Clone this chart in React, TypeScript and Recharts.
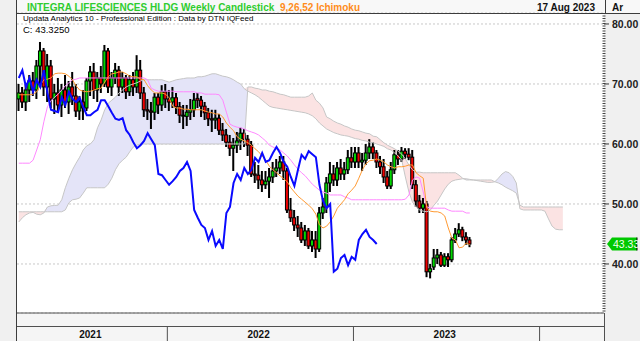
import React from 'react';
import {
  ComposedChart,
  Bar,
  Line,
  Area,
  XAxis,
  YAxis,
  CartesianGrid,
  ReferenceLine,
} from 'recharts';

// weekly candles, one per week (index 0 = early Mar 2021, 126 = 17 Aug 2023)
const opens = [
  67.5, 68.5, 67, 69, 70.5, 69, 73, 75.5, 69.5, 73,
  67.5, 68.5, 66.5, 69, 67, 69.5, 68, 65.5, 67, 66,
  70.5, 72, 69, 71, 70, 75.5, 69.5, 71, 72.3, 69.5,
  71, 68.7, 70.7, 69.5, 72.3, 68.5, 65.7, 65.5, 65.3, 67.8,
  66.5, 68.7, 67.5, 67, 67.7, 66.2, 64.8, 64.6, 65.3, 65.7,
  67.6, 67.3, 66.3, 65.2, 64.2, 64, 64.3, 62.3, 61.5, 60.3,
  59.3, 59.8, 60.5, 61.8, 60.8, 59.8, 55, 54.8, 54, 53.2,
  53.8, 54.5, 55.5, 56, 57, 55.5, 49, 47.7, 46.5, 46,
  44, 45.5, 43, 44, 42.5, 48.5, 49.5, 53.5, 55, 54,
  56, 55, 55.7, 57.7, 57, 58.5, 57, 57.3, 58.5, 59.5,
  58.5, 57, 56.2, 54.5, 53, 55.7, 58.2, 57.5, 58.8, 58.3,
  57.8, 53.2, 50.5, 49.3, 50, 38.7, 39.5, 41, 41.5, 39.8,
  41.2, 40.7, 44, 45, 45.7, 44.5, 44,
];
const highs = [
  70, 69.5, 70, 71.5, 72, 74, 77, 76, 75, 74,
  70, 71, 70, 71.5, 70.5, 72, 70, 68, 69, 71,
  73, 73.5, 72, 73, 76.5, 76, 72, 73.5, 73, 72,
  71.5, 71.5, 72, 74.8, 74, 69.5, 67.5, 67, 68.5, 68.5,
  69.8, 70, 69, 69.5, 68.5, 67, 66.5, 66.5, 67.5, 68.5,
  68.5, 68, 67, 66, 65.7, 65.7, 65, 63.5, 62.5, 61.5,
  61, 62, 62.7, 62.5, 61.5, 60.5, 57, 56.5, 55.5, 55.5,
  56, 57, 57.5, 58, 58, 56, 51, 49, 48, 47,
  46.5, 46, 45.5, 45.5, 49.5, 51, 54.5, 57, 56.5, 57,
  57.5, 57, 59, 59.5, 59.5, 59.5, 58.5, 60, 60.8, 60.3,
  59, 58, 57.5, 55.5, 57, 59, 59, 59.5, 59.3, 59.3,
  59, 54, 51.5, 51, 50.5, 40, 42.5, 42.5, 42, 41.8,
  41.8, 44.5, 46, 46.8, 46.2, 45.3, 44.5,
];
const lows = [
  65.5, 66, 65.5, 67, 68, 67.5, 70, 68, 67, 66,
  65, 65.5, 64.5, 66, 65, 66.5, 64.5, 64, 64, 65.5,
  68, 67.5, 67, 68.5, 69.5, 68.5, 68, 70, 68, 68.5,
  67.5, 68, 68, 68.5, 67.5, 64.5, 64, 62.5, 64, 65,
  65.5, 66, 65.5, 66, 65, 63.5, 62.5, 63, 64, 64.5,
  66, 64.5, 64, 63, 62, 62.5, 61.5, 60.5, 59.5, 58,
  55.5, 58.5, 59, 59.5, 58, 54.5, 53.5, 52.5, 52, 52.5,
  51, 53.5, 54.5, 55, 54, 48.5, 47, 45.5, 44.5, 43.5,
  43, 42.5, 42, 41, 42, 47.5, 48.5, 52, 53, 53,
  54, 54, 55, 56, 56, 56, 55.5, 56.5, 57.5, 57.5,
  56, 55, 53.5, 52.5, 52.5, 55, 56.5, 57, 57.5, 57.3,
  52.5, 49.5, 48.5, 48.5, 37.8, 37.6, 39, 40, 39.5, 39.5,
  39.5, 40.3, 43.5, 44.5, 43.8, 43.2, 42.8,
];
const closes = [
  68.5, 67, 69, 70.5, 69, 73, 75.5, 69.5, 73, 67.5,
  68.5, 66.5, 69, 67, 69.5, 68, 65.5, 67, 66, 70.5,
  72, 69, 71, 70, 75.5, 69.5, 71, 72.3, 69.5, 71,
  68.7, 70.7, 69.5, 72.3, 68.5, 65.7, 65.5, 65.3, 67.8, 66.5,
  68.7, 67.5, 67, 67.7, 66.2, 64.8, 64.8, 65.3, 65.7, 67.3,
  67.3, 66.3, 65.2, 64.2, 64, 64.3, 62.3, 61.5, 60.3, 59.3,
  59.8, 60.5, 61.8, 60.8, 59.8, 55, 54.8, 54, 53.2, 53.8,
  54.5, 55.5, 56, 57, 55.5, 49, 47.7, 46.5, 46, 44,
  45.5, 43, 44, 42.5, 48.5, 49.5, 53.5, 55, 54, 56,
  55, 55.7, 57.7, 57, 58.5, 57, 57.3, 58.5, 59.5, 58.5,
  57, 56.2, 54.5, 53, 55.7, 58.2, 57.5, 58.8, 58.3, 57.8,
  53.2, 50.5, 49.3, 50, 38.7, 39.2, 41, 41.5, 39.8, 41.2,
  40.7, 44, 45, 45.7, 44.5, 44, 43.33,
];

// ichimoku lines as they appear on the chart
const tenkan = [
  68.2, 68.2, 68.2, 68.2, 68.3, 68.7, 69.8, 70.7, 70.8, 71,
  71.7, 71.8, 71.8, 71.7, 71.3, 70.7, 69.7, 69, 68.8, 68.7,
  68.8, 69, 69.2, 69.3, 70.3, 71.2, 71.7, 71.8, 72, 72,
  71.7, 71.3, 71.2, 71.2, 70.8, 70.7, 69.7, 69, 68.5, 68.5,
  68.5, 68.3, 67.7, 66.3, 66, 66, 65.8, 65.8, 65.7, 65.7,
  65.7, 65.7, 65.5, 65.3, 65.2, 65, 65, 64.5, 63.5, 62.8,
  62.2, 61.2, 60.8, 60.5, 60.2, 59.8, 59.2, 58.7, 58, 57.3,
  56.3, 55.7, 55.2, 54.7, 54.2, 53.7, 52.7, 52, 51.3, 50.8,
  50.3, 49.8, 49.2, 48.3, 46.5, 46, 46.3, 47, 48, 49.3,
  50, 50.7, 51.7, 52.3, 53, 54.3, 55.7, 56.7, 57.2, 57.3,
  57.5, 57.3, 57, 56.5, 56.2, 56, 56.2, 56.2, 56.3, 56.5,
  56.5, 55.2, 54.7, 54.3, 49.3, 48.8, 48.7, 48.7, 48.5, 48,
  46, 44.3, 44, 42.7, 42.8, 43.5, 43.2,
];
const kijun = [
  56.8, 56.8, 56.8, 56.8, 57.3, 59, 60.7, 63.7, 66.2, 67.2,
  67.8, 68.3, 69, 69.7, 70.2, 70.7, 70.8, 71, 71, 71,
  71, 71, 71, 71, 71, 71, 71, 71, 71, 71,
  71, 71, 71, 71, 71, 71, 70.7, 69.3, 69, 68.8,
  68.8, 68.8, 68.8, 68.8, 68.7, 68.7, 68.7, 68.7, 68.7, 68.7,
  68.5, 68.5, 68.3, 68.3, 68.3, 68.3, 68.2, 67.3, 65.3, 63.3,
  63, 62.8, 62.7, 62.5, 62.2, 62, 61.8, 61.5, 61, 60.5,
  59.8, 59.5, 59.2, 59, 58.5, 58, 57.3, 56.5, 55.8, 55.2,
  54.7, 54, 53.3, 52.8, 52.3, 52, 51.8, 51.5, 51.5, 51.5,
  51.5, 51.2, 51, 50.7, 50.7, 50.7, 50.7, 50.7, 50.7, 50.7,
  50.7, 50.7, 50.7, 50.7, 50.7, 50.7, 50.7, 50.7, 50.8, 51.5,
  54, 54.5, 54.3, 52, 49.5, 49.3, 49.3, 49.3, 49.3, 49.3,
  49, 48.8, 48.8, 48.8, 48.8, 48.5, 48.5,
];
// cloud edges, running 26 weeks past the last candle
const spanA = [
  47, 47.7, 48.2, 48.5, 48.6, 48.3, 48.2, 48.5, 49.5, 49.7,
  49.75, 49.8, 50.7, 52.7, 54.3, 55.7, 56.8, 57.8, 59, 59.7,
  60, 60.7, 62.7, 64, 65.7, 66.8, 67.3, 67.8, 68.5, 69,
  69.5, 69.8, 70, 70.2, 70.5, 70.7, 70.7, 70.7, 70.7, 70.7,
  70.7, 70.5, 70.3, 70.5, 70.7, 70.8, 70.9, 71, 71, 71,
  71.2, 71.2, 71.3, 71.5, 71.7, 71.7, 71.5, 71.3, 71.2, 71,
  70.7, 70.3, 70, 69.2, 68.8, 68.5, 68.2, 67.8, 67.3, 66.8,
  66.3, 66.1, 66, 65.9, 65.8, 65.7, 65.6, 65.5, 65.4, 65.3,
  65.2, 65, 64.7, 64.2, 63.5, 63, 62.5, 62.2, 61.9, 61.7,
  61.5, 61.4, 61.3, 61.1, 60.9, 60.8, 60.6, 60.5, 60.3, 60.2,
  60, 59.8, 59.6, 59.2, 59, 58.5, 58, 57.3, 54.5, 52,
  50.3, 49.5, 49, 48.8, 48.7, 49, 49.8, 50.5, 51.5, 52.5,
  53.3, 53.8, 54, 54.1, 54.2, 54.2, 54.1, 54, 53.9, 53.8,
  53.7, 53.6, 53.6, 53.7, 54.3, 55, 55.4, 55.2, 54.6, 53.5,
  49.2, 49, 49, 49, 49, 49, 49, 48.8, 47.5, 46.3,
  45.8, 45.7, 45.7,
];
const spanB = [
  48.7, 48.7, 48.7, 48.7, 48.7, 48.7, 48.7, 48.7, 48.7, 48.7,
  48.7, 48.7, 48.7, 49, 50.2, 50.7, 50.8, 51, 51.8, 52.7,
  52.7, 52.7, 52.7, 52.7, 52.7, 53.3, 54.3, 55.7, 56.7, 57.3,
  57.8, 58.7, 59.5, 59.8, 60, 60, 60, 60, 60, 60,
  60, 60, 60, 60, 60, 60, 60, 60, 60, 60,
  60, 60, 60, 60, 60, 60, 60, 60, 60, 60,
  60, 60, 60, 60, 69.5, 69.5, 69.3, 69.2, 69, 69,
  68.8, 68.7, 68.5, 68.3, 68.2, 68, 67.8, 67.8, 67.8, 67.8,
  67.8, 68, 68.5, 67.3, 66.8, 66, 64.5, 64.2, 63.8, 63.5,
  63.3, 63, 62.8, 62.5, 62.3, 62.2, 62, 61.8, 61.7, 61.3,
  61.2, 60.7, 60.2, 59.8, 59.5, 59.2, 58.8, 58.3, 57.5, 56.5,
  55.7, 55.3, 55.3, 55.2, 55.2, 55.2, 55.2, 55.2, 55.2, 55.2,
  55.2, 55.2, 55.2, 54.8, 54.3, 54, 54, 54, 54, 54,
  54, 54, 54, 53.7, 53.5, 53.2, 52.8, 52.5, 52.2, 51.8,
  49.8, 49.5, 49.5, 49.5, 49.5, 49.5, 49.5, 49.5, 49.5, 49.5,
  49.5, 49.5, 49.5,
];

const priceTicks = [40, 50, 60, 70, 80];
const yearLabelWeeks = [20, 67, 119];
const yearLabels = ['2021', '2022', '2023'];
const yearBreakWeeks = [41, 93, 145];

const TOTAL_WEEKS = 164;
const LAG = 26;
const FONT = '"Liberation Sans", Arial, Helvetica, sans-serif';
const lastClose = closes[closes.length - 1];

const rows = Array.from({ length: TOTAL_WEEKS }, (_, i) => {
  const hasBar = i < closes.length;
  const a = spanA[i];
  const b = spanB[i];
  const hasCloud = a != null && b != null;
  return {
    i,
    hl: hasBar ? [lows[i], highs[i]] : null,
    o: opens[i],
    h: highs[i],
    l: lows[i],
    c: closes[i],
    tenkan: hasBar ? tenkan[i] : null,
    kijun: hasBar ? kijun[i] : null,
    chikou: i + LAG < closes.length ? closes[i + LAG] : null,
    spanA: hasCloud ? a : null,
    spanB: hasCloud ? b : null,
    bull: hasCloud ? [b, Math.max(a, b)] : null,
    bear: hasCloud ? [a, Math.max(a, b)] : null,
  };
});

function Candle(props: any) {
  const { x, y, width, height, payload } = props;
  if (!payload || payload.hl == null || height == null || isNaN(y)) return <g />;
  const { o, h, l, c } = payload;
  const top = height >= 0 ? y : y + height;
  const span = Math.abs(height);
  const toY = (v: number) => top + ((h - v) / (h - l)) * span;
  const cx = x + width / 2;
  const bodyTop = toY(Math.max(o, c));
  const bodyH = Math.max(toY(Math.min(o, c)) - bodyTop, 1);
  return (
    <g>
      <rect x={cx - 1} y={top} width={2} height={span} fill="#000" />
      <rect
        x={cx - 1.5}
        y={bodyTop}
        width={3}
        height={bodyH}
        fill={c >= o ? '#00d800' : '#ee0000'}
        stroke="#000"
        strokeWidth={1}
      />
    </g>
  );
}

function PriceLabel(props: any) {
  const { x, y, payload } = props;
  return (
    <text x={x} y={y + 4} fontFamily={FONT} fontWeight="bold" fontSize={10.5} fill="#222">
      {Number(payload.value).toFixed(2)}
    </text>
  );
}

function YearTick(props: any) {
  const { x, y, payload } = props;
  const k = yearLabelWeeks.indexOf(payload.value);
  if (k >= 0) {
    return (
      <text x={x} y={y + 25} textAnchor="middle" fontFamily={FONT} fontWeight="bold" fontSize={10} fill="#111">
        {yearLabels[k]}
      </text>
    );
  }
  return <line x1={x + 1.8} x2={x + 1.8} y1={y + 14} y2={y + 28} stroke="#505050" />;
}

function PriceTag(props: any) {
  const vb = props.viewBox || {};
  const yy = vb.y;
  const x0 = vb.x + vb.width + 3;
  const x1 = 637;
  return (
    <g>
      <polygon
        points={`${x0},${yy} ${x0 + 5},${yy - 6.5} ${x1},${yy - 6.5} ${x1},${yy + 6.5} ${x0 + 5},${yy + 6.5}`}
        fill="#00c800"
      />
      <line x1={x1} x2={x1} y1={yy - 6.5} y2={yy + 6.5} stroke="#000" />
      <text x={x0 + 6} y={yy + 4} fontFamily={FONT} fontSize={10.5} fill="#f0fff0">
        {lastClose.toFixed(2)}
      </text>
    </g>
  );
}

export default function App() {
  return (
    <div style={{ position: 'absolute', left: 0, top: 0, width: 640, height: 341, background: '#f0f0f0', overflow: 'hidden' }}>
      <div style={{ position: 'absolute', left: 17, top: 0, width: 623, height: 13, background: '#f8f8f8' }} />
      <div style={{ position: 'absolute', left: 17, top: 13, width: 587, height: 300, background: '#fff' }} />
      <div style={{ position: 'absolute', left: 17, top: 313, width: 587, height: 28, background: '#f5f5f5' }} />
      <div style={{ position: 'absolute', left: 0, top: 0 }}>
        <ComposedChart
          width={640}
          height={341}
          data={rows}
          margin={{ top: 13, right: 0, bottom: 0, left: 17 }}
        >
          <CartesianGrid vertical={false} stroke="#c8c8c8" strokeDasharray="2 2" />
          <XAxis
            dataKey="i"
            type="category"
            ticks={[...yearLabelWeeks, ...yearBreakWeeks]}
            interval={0}
            height={28}
            tickSize={0}
            tickMargin={0}
            tickLine={false}
            axisLine={{ stroke: '#505050' }}
            tick={<YearTick />}
          />
          <YAxis
            orientation="right"
            domain={[31.83, 81.83]}
            allowDataOverflow
            ticks={priceTicks}
            interval={0}
            width={36}
            tickSize={5}
            tickMargin={3}
            tickLine={{ stroke: '#333' }}
            axisLine={{ stroke: '#444', strokeWidth: 3, strokeDasharray: '1 1.5' }}
            tick={<PriceLabel />}
          />
          <Area dataKey="bull" type="linear" stroke="none" fill="#e4e4f8" fillOpacity={1} isAnimationActive={false} />
          <Area dataKey="bear" type="linear" stroke="none" fill="#fbe3e3" fillOpacity={1} isAnimationActive={false} />
          <Line dataKey="spanA" type="linear" stroke="#c6c6c6" strokeWidth={1} dot={false} isAnimationActive={false} />
          <Line dataKey="spanB" type="linear" stroke="#c6c6c6" strokeWidth={1} dot={false} isAnimationActive={false} />
          <Bar dataKey="hl" barSize={3} shape={(p: any) => <Candle {...p} />} isAnimationActive={false} />
          <Line dataKey="kijun" type="linear" stroke="#ff88ff" strokeWidth={1} dot={false} isAnimationActive={false} />
          <Line dataKey="tenkan" type="linear" stroke="#ff9a33" strokeWidth={1} dot={false} isAnimationActive={false} />
          <Line dataKey="chikou" type="linear" stroke="#0a0aff" strokeWidth={2} dot={false} isAnimationActive={false} />
          <ReferenceLine y={lastClose} stroke="none" label={<PriceTag />} />
        </ComposedChart>
      </div>
      <svg width={640} height={341} style={{ position: 'absolute', left: 0, top: 0, pointerEvents: 'none' }}>
        <line x1={16.5} y1={0} x2={16.5} y2={341} stroke="#3c3c3c" />
        <line x1={16} y1={13.5} x2={640} y2={13.5} stroke="#3c3c3c" />
        <line x1={605.5} y1={0} x2={605.5} y2={13} stroke="#3c3c3c" />
        <line x1={17} y1={326.5} x2={604} y2={326.5} stroke="#505050" />
        <line x1={604.5} y1={313} x2={604.5} y2={341} stroke="#505050" />
        <text x={27} y={10.5} fontFamily={FONT} fontWeight="bold" fontSize={10} fill="#2ecc2e">
          INTEGRA LIFESCIENCES HLDG Weekly Candlestick
        </text>
        <text x={280} y={10.5} fontFamily={FONT} fontWeight="bold" fontSize={10} fill="#ff8c1a">
          9,26,52 Ichimoku
        </text>
        <text x={595} y={10.5} textAnchor="end" fontFamily={FONT} fontWeight="bold" fontSize={10} fill="#111">
          17 Aug 2023
        </text>
        <text x={612} y={10.5} fontFamily={FONT} fontWeight="bold" fontSize={10} fill="#111">
          Ar
        </text>
        <text x={23} y={20.5} fontFamily={FONT} fontSize={8} fill="#000">
          Updata Analytics 10 - Professional Edition : Data by DTN IQFeed
        </text>
        <text x={23} y={32.5} fontFamily={FONT} fontSize={9.5} fill="#000">
          C: 43.3250
        </text>
      </svg>
    </div>
  );
}
